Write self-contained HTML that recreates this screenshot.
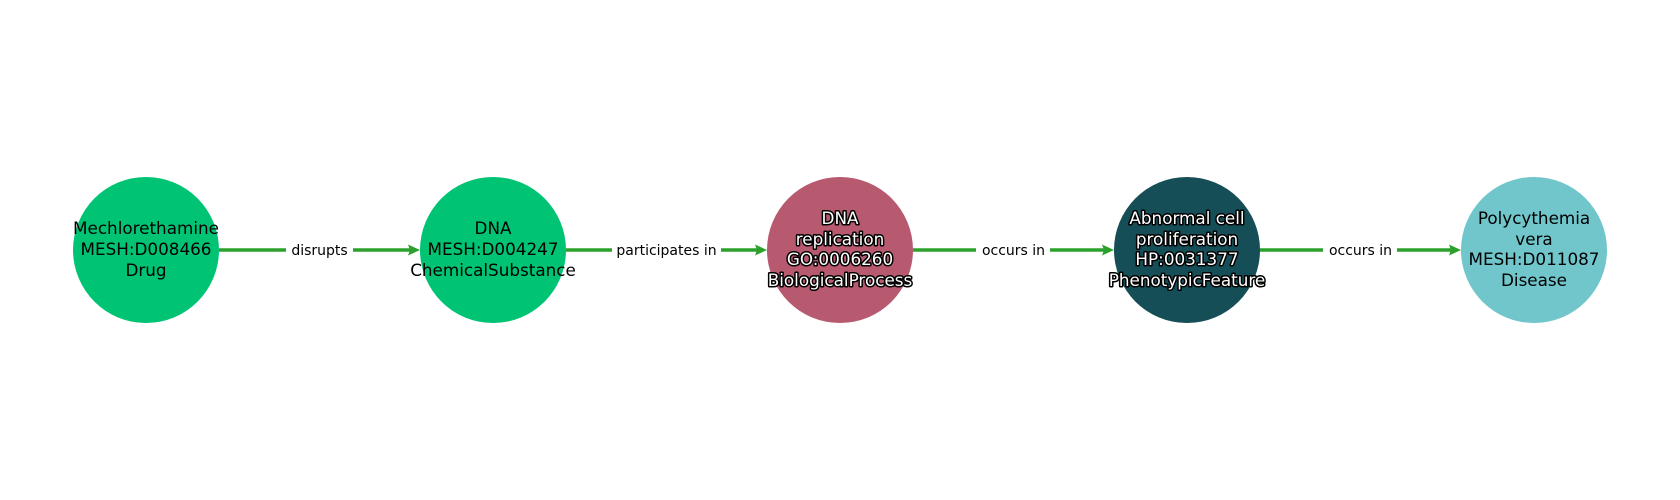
<!DOCTYPE html>
<html><head><meta charset="utf-8"><style>body{margin:0;background:#fff}svg{display:block}text{font-family:"DejaVu Sans","Liberation Sans",sans-serif}</style></head><body>
<svg width="1680" height="500" viewBox="0 0 1680 500" xmlns="http://www.w3.org/2000/svg">
<g stroke="#2ca02c" stroke-width="3.5" fill="none">
<line x1="219" y1="250" x2="412" y2="250"/>
<line x1="566" y1="250" x2="759" y2="250"/>
<line x1="913" y1="250" x2="1106" y2="250"/>
<line x1="1260" y1="250" x2="1453" y2="250"/>
</g>
<g fill="#2ca02c">
<polygon points="420,250 408,244.5 410,250 408,255.5"/>
<polygon points="767,250 755,244.5 757,250 755,255.5"/>
<polygon points="1114,250 1102,244.5 1104,250 1102,255.5"/>
<polygon points="1461,250 1449,244.5 1451,250 1449,255.5"/>
</g>
<g fill="#fff">
<rect x="286" y="240" width="67" height="20"/>
<rect x="612" y="240" width="109" height="20"/>
<rect x="976" y="240" width="74" height="20"/>
<rect x="1323" y="240" width="74" height="20"/>
</g>
<g font-size="14" text-anchor="middle" fill="#000">
<text x="319.5" y="255">disrupts</text>
<text x="666.5" y="255">participates in</text>
<text x="1013.5" y="255">occurs in</text>
<text x="1360.5" y="255">occurs in</text>
</g>
<circle cx="146" cy="250" r="73" fill="#00c473"/>
<circle cx="493" cy="250" r="73" fill="#00c473"/>
<circle cx="840" cy="250" r="73" fill="#b85a6f"/>
<circle cx="1187" cy="250" r="73" fill="#154e56"/>
<circle cx="1534" cy="250" r="73" fill="#71c6cc"/>
<g font-size="16.8" text-anchor="middle" fill="#000">
<text x="146" y="234">Mechlorethamine</text><text x="146" y="255">MESH:D008466</text><text x="146" y="276">Drug</text>
<text x="493" y="234">DNA</text><text x="493" y="255">MESH:D004247</text><text x="493" y="276">ChemicalSubstance</text>
<text x="1534" y="224">Polycythemia</text><text x="1534" y="245">vera</text><text x="1534" y="265">MESH:D011087</text><text x="1534" y="286">Disease</text>
</g>
<g font-size="16.8" text-anchor="middle" fill="#fff" stroke="#000" stroke-width="3" paint-order="stroke" stroke-linejoin="round">
<text x="840" y="224">DNA</text><text x="840" y="245">replication</text><text x="840" y="265">GO:0006260</text><text x="840" y="286">BiologicalProcess</text>
<text x="1187" y="224">Abnormal cell</text><text x="1187" y="245">proliferation</text><text x="1187" y="265">HP:0031377</text><text x="1187" y="286">PhenotypicFeature</text>
</g>
</svg>
</body></html>
